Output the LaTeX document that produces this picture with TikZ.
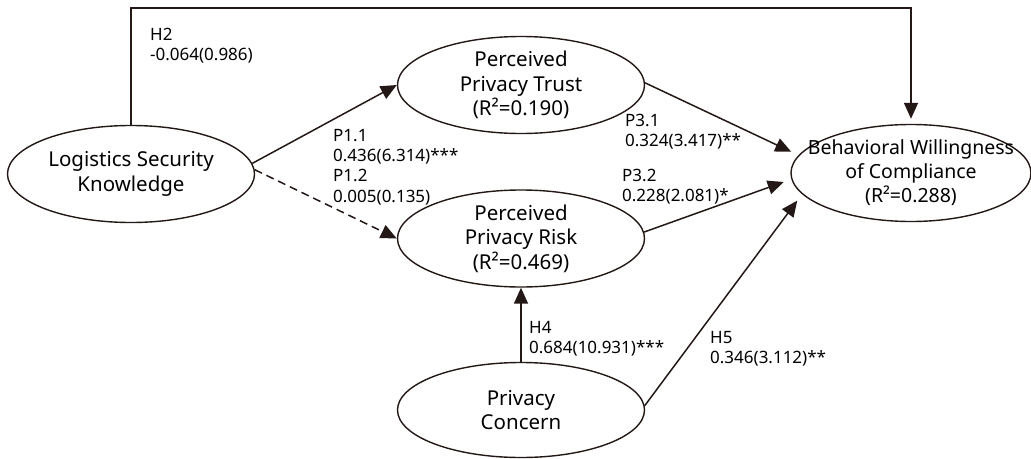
\documentclass[tikz,border=0pt]{standalone}
\usepackage{fontspec}
\setmainfont{Noto Sans}
\usepackage{tikz}
\usetikzlibrary{arrows.meta,shapes.geometric,calc}
\definecolor{pathdark}{HTML}{231815}

\begin{document}
\begin{tikzpicture}[
  x=1pt, y=-1pt,
  construct/.style={draw=pathdark, ellipse, line width=1.4pt,
              inner xsep=-30pt, inner ysep=-6pt,
              minimum width=247pt, minimum height=97pt, align=center,
              font=\fontsize{20.5}{24.5}\selectfont},
  coef/.style={anchor=north west, inner sep=0pt, align=left,
              font=\fontsize{17}{20.3}\selectfont},
  arr/.style={-{Triangle[length=16pt,width=14pt]}, line width=1.5pt, draw=pathdark},
  gap/.style={shorten >=8pt}
]
\useasboundingbox (0,0) rectangle (1031,458);

\node[construct] (lsk) at (131,174) {Logistics Security\\Knowledge};
\node[construct] (ppt) at (521,85) {Perceived\\Privacy Trust\\(R²=0.190)};
\node[construct] (ppr) at (521,238.5) {Perceived\\Privacy Risk\\(R²=0.469)};
\node[construct, minimum height=95pt] (pc) at (521,410) {Privacy\\Concern};
\node[construct, minimum width=240pt, font=\fontsize{19.5}{24}\selectfont] (bwc) at (911,173) {Behavioral Willingness\\of Compliance\\(R²=0.288)};

% path coefficients
\node[coef] (h2) at (150,28) {H2\\-0.064(0.986)};
\node[coef] (p1) at (333,129) {P1.1\\0.436(6.314)***\\P1.2\\0.005(0.135)};
\node[coef] (p31) at (625,114) {P3.1\\0.324(3.417)**};
\node[coef] (p32) at (622,169) {P3.2\\0.228(2.081)*};
\node[coef] (h4) at (529,321) {H4\\0.684(10.931)***};
\node[coef] (h5) at (710,331) {H5\\0.346(3.112)**};

\coordinate (top) at (0,8);
\draw[arr, shorten >=5pt] (lsk.north) -- (lsk.north |- top) -- (bwc.north |- top) -- (bwc.north);
\draw[arr] (lsk.5) -- (ppt.west);
\draw[arr, dash pattern=on 8pt off 5pt] (lsk.2) -- (ppr.west);
\draw[arr, gap] (ppt.1) -- (bwc.171);
\draw[arr, gap] (ppr.3) -- (bwc.183);
\draw[arr, gap] (pc.2) -- (bwc.191);
\draw[arr] (pc.north) -- (ppr.south);
\end{tikzpicture}
\end{document}
